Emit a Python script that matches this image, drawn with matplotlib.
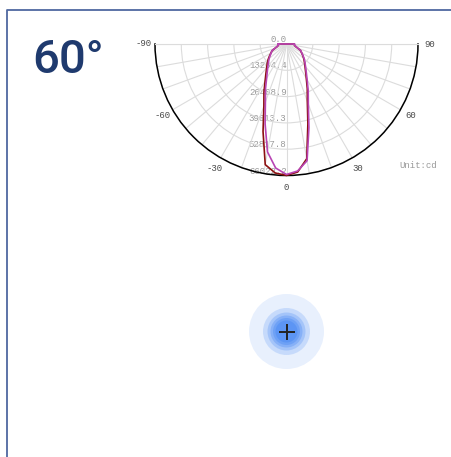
import numpy as np
import matplotlib.pyplot as plt
from matplotlib.patches import Circle

W, H = 451, 457

# light distribution (cd), angles -90..90 step 5
angles = np.arange(-90, 91, 5)
c0_c180 = [4000, 4000, 4200, 4800, 6000, 8000, 9000, 10400, 12000, 13600,
           15500, 18000, 21500, 26800, 33200, 45500, 61500, 65000, 66000,
           64500, 58500, 41500, 30600, 24700, 19900, 16700, 14400, 12700,
           11300, 9900, 8700, 7800, 5900, 4700, 4100, 3900, 3900]
c90_c270 = [4100, 4100, 4300, 4900, 6100, 8100, 8900, 10000, 11400, 12800,
            14500, 16800, 20000, 25000, 31000, 41500, 55000, 62500, 65500,
            64000, 59500, 43500, 32000, 25800, 20700, 17300, 14900, 13100,
            11600, 10100, 8800, 7900, 6000, 4800, 4200, 4100, 4100]
r_max = 66022.2
r_ticks = [0.0, 13204.4, 26408.9, 39613.3, 52817.8, 66022.2]
theta_labels = [-90, -60, -30, 0, 30, 60, 90]
beam_text = "60°"

# glow radii (px) and alphas
glow_r = [37.5, 23.5, 19, 16, 13.5, 11]
glow_a = [0.12, 0.2, 0.25, 0.3, 0.35, 0.4]

mono = 'Liberation Mono'
grid_c = '#dcdcdc'

fig = plt.figure(figsize=(W / 100, H / 100), dpi=100)

bg = fig.add_axes([0, 0, 1, 1])
bg.set_xlim(0, W)
bg.set_ylim(H, 0)
bg.axis('off')
bg.plot([6.5, 6.5, W], [H, 9.5, 9.5], color='#4F68A0', lw=1.3)
bg.text(32, 73, beam_text, fontsize=34, family=['Roboto', 'DejaVu Sans'],
        weight='medium', color='#1F3A6E', ha='left', va='baseline')
for r, a in zip(glow_r, glow_a):
    bg.add_patch(Circle((286.5, 331.5), r, color='#4285F4', alpha=a, lw=0))
bg.plot([286.5], [331.5], marker='+', ms=11, mew=1.4, color='#222222')

# polar plot (square box, half wedge ends up centred vertically)
ax = fig.add_axes([155 / W, 1 - 241.25 / H, 263 / W, 263 / H],
                  projection='polar')
ax.set_theta_zero_location('S')
ax.set_thetamin(-90)
ax.set_thetamax(90)
ax.set_ylim(0, r_max)

ax.set_thetagrids(np.arange(-90, 91, 10),
                  [str(t) if t in theta_labels else '' for t in range(-90, 91, 10)])
ax.set_rgrids(r_ticks[1:], labels=[''] * 5)
ax.grid(color=grid_c, lw=0.8)
ax.tick_params(axis='x', pad=-2, labelsize=6.5, labelcolor='#4a4a4a')
for lab in ax.get_xticklabels():
    lab.set_family(mono)
ax.spines['polar'].set_color('black')
ax.spines['polar'].set_linewidth(1.1)
# start/end spines get switched back on at draw time, so just grey them
for s in ['start', 'end', 'inner']:
    ax.spines[s].set_color(grid_c)
    ax.spines[s].set_linewidth(0.8)

for rt in r_ticks:
    ax.text(0, rt, f"{rt:.1f}", ha='right', va='bottom', fontsize=6.5,
            family=mono, color='#9a9a9a', zorder=1.5)


def closed(vals):
    th = np.deg2rad(np.concatenate([angles, [90, -90, -90]]))
    rr = np.concatenate([vals, [0, 0, vals[0]]])
    return th, rr


th, rr = closed(c0_c180)
ax.plot(th, rr, color='#8B1010', lw=1.2, zorder=3, clip_on=False)
th, rr = closed(c90_c270)
ax.plot(th, rr, color='#B844B4', lw=1.2, zorder=3.1, clip_on=False)

fig.text(418.5 / W, 1 - 165 / H, 'Unit:cd', ha='center', va='center',
         fontsize=6.5, family=mono, color='#999999')

fig.savefig('out.png', dpi=100)
